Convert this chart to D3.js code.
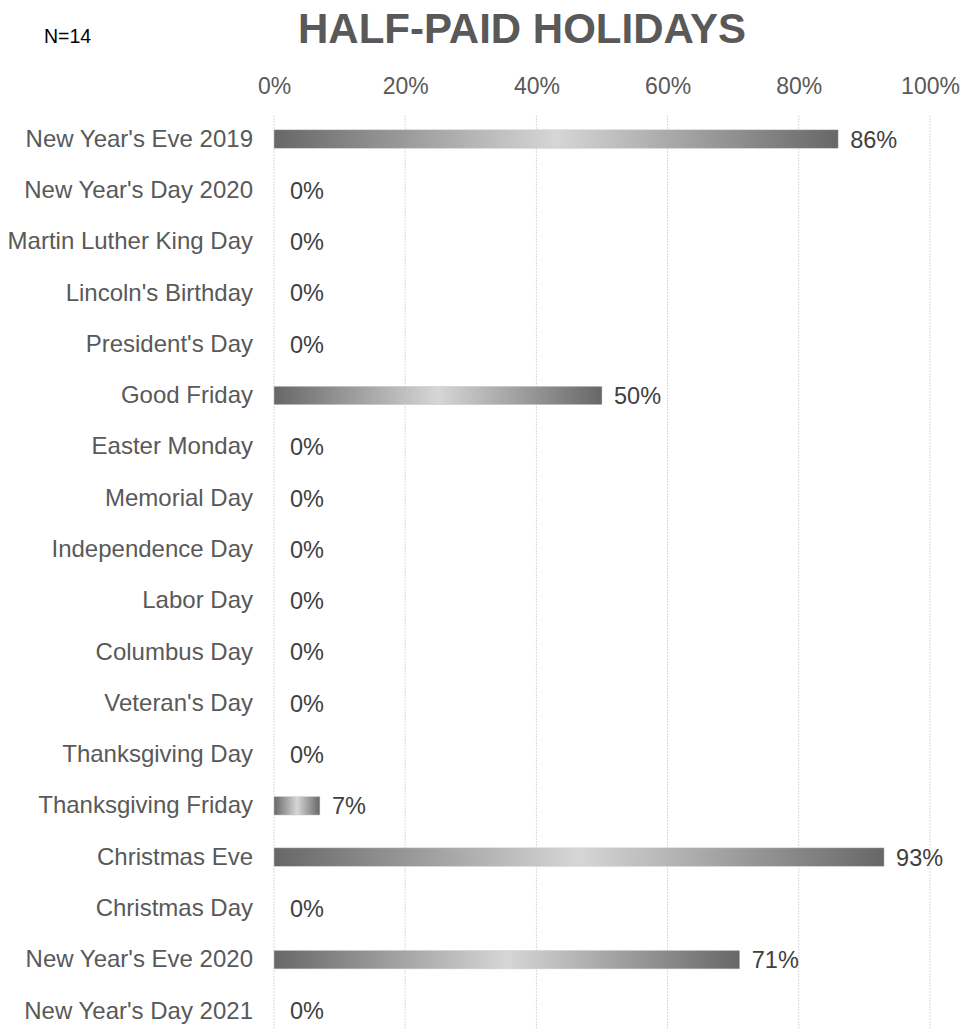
<!DOCTYPE html>
<html><head><meta charset="utf-8">
<script src="https://cdn.jsdelivr.net/npm/d3@7"></script>
<style>body{margin:0;background:#fff;}svg{display:block;font-family:"Liberation Sans",Arial,sans-serif;}</style>
</head><body>
<script>
const categories = ["New Year's Eve 2019","New Year's Day 2020","Martin Luther King Day","Lincoln's Birthday","President's Day","Good Friday","Easter Monday","Memorial Day","Independence Day","Labor Day","Columbus Day","Veteran's Day","Thanksgiving Day","Thanksgiving Friday","Christmas Eve","Christmas Day","New Year's Eve 2020","New Year's Day 2021"];
const values = [0.86,0,0,0,0,0.50,0,0,0,0,0,0,0,0.07,0.93,0,0.71,0];
const tickValues = [0,0.2,0.4,0.6,0.8,1.0];
const title = "HALF-PAID HOLIDAYS";
const note = "N=14";

const W = 962, H = 1030;
const svg = d3.select("body").append("svg").attr("width", W).attr("height", H);
const defs = svg.append("defs");
const grad = defs.append("linearGradient").attr("id","barGrad").attr("x1","0%").attr("x2","100%").attr("y1","0%").attr("y2","0%");
grad.append("stop").attr("offset","0%").attr("stop-color","#676767");
grad.append("stop").attr("offset","50%").attr("stop-color","#d6d6d6");
grad.append("stop").attr("offset","100%").attr("stop-color","#676767");

const x = d3.scaleLinear().domain([0,1]).range([274,930]);
const y = d3.scaleBand().domain(categories).range([113.4,1036.6]).paddingInner(0.64).paddingOuter(0.32);

// gridlines
svg.append("g").selectAll("line").data(tickValues).join("line")
  .attr("x1", d=>x(d)).attr("x2", d=>x(d)).attr("y1", 115).attr("y2", H)
  .attr("stroke","#d9d9d9").attr("stroke-width",1).attr("stroke-dasharray","2,1");

// top axis
const axis = d3.axisTop(x).tickValues(tickValues).tickFormat(d3.format(".0%")).tickSize(0).tickPadding(0);
const ag = svg.append("g").attr("transform","translate(0,94)").call(axis);
ag.select(".domain").remove();
ag.selectAll("text").attr("font-size",23).attr("fill","#595959").attr("font-family","Liberation Sans, Arial, sans-serif");

// category labels
const lg = svg.append("g").attr("transform","translate(253,0)").call(d3.axisLeft(y).tickSize(0).tickPadding(0));
lg.select(".domain").remove();
lg.selectAll("text").attr("font-size",24).attr("fill","#595959").attr("font-family","Liberation Sans, Arial, sans-serif");

// bars
svg.append("g").selectAll("rect").data(values.map((v,i)=>({c:categories[i],v}))).join("rect")
  .attr("x", x(0)).attr("y", d=>y(d.c)).attr("width", d=>x(d.v)-x(0)).attr("height", y.bandwidth())
  .attr("fill","url(#barGrad)").attr("stroke","#d0d0d0").attr("stroke-width",0.5);

// value labels
svg.append("g").selectAll("text").data(values.map((v,i)=>({c:categories[i],v}))).join("text")
  .attr("x", d=>x(d.v)+ (d.v>0?12:16)).attr("y", d=>y(d.c)+y.bandwidth()/2).attr("dy","0.36em")
  .attr("font-size",23.5).attr("fill","#404040").text(d=>d3.format(".0%")(d.v));

// title
svg.append("text").attr("x",522).attr("y",43).attr("text-anchor","middle")
  .attr("font-size",42).attr("font-weight","bold").attr("fill","#595959").text(title);
svg.append("text").attr("x",44).attr("y",43).attr("font-size",19.5).attr("fill","#000").text(note);
</script>
</body></html>
